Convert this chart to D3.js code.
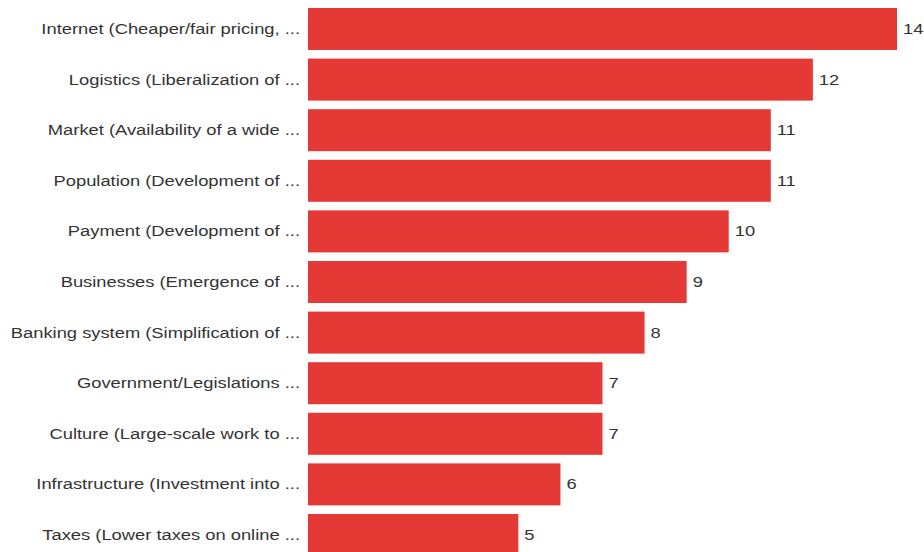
<!DOCTYPE html>
<html>
<head>
<meta charset="utf-8">
<script src="https://cdn.jsdelivr.net/npm/d3@7"></script>
<style>
  body { margin: 0; background: #fff; }
  svg { display: block; }
</style>
</head>
<body>
<svg id="chart" width="924" height="552"></svg>
<script>
const categories = [
  "Internet (Cheaper/fair pricing, ...",
  "Logistics (Liberalization of ...",
  "Market (Availability of a wide ...",
  "Population (Development of ...",
  "Payment (Development of ...",
  "Businesses (Emergence of ...",
  "Banking system (Simplification of ...",
  "Government/Legislations ...",
  "Culture (Large-scale work to ...",
  "Infrastructure (Investment into ...",
  "Taxes (Lower taxes on online ..."
]
const values = [14, 12, 11, 11, 10, 9, 8, 7, 7, 6, 5]

const barColour = "#e53935"
const textColour = "#333"
// the reference text is stretched sideways
const stretch = 1.31

const svg = d3.select("#chart")

const x = d3.scaleLinear()
    .domain([0, 14])
    .range([308, 897])

const y = d3.scaleBand()
    .domain(categories)
    .range([3.7, 560.3])
    .paddingInner(0.17)
    .paddingOuter(0.085)

const rows = categories.map((c, i) => ({ label: c, value: values[i] }))

svg.append("g")
  .selectAll("rect")
  .data(rows)
  .join("rect")
    .attr("x", x(0))
    .attr("y", d => y(d.label))
    .attr("width", d => x(d.value) - x(0))
    .attr("height", y.bandwidth())
    .attr("fill", barColour)

// category labels, right aligned against the bars
svg.append("g")
  .selectAll("text")
  .data(rows)
  .join("text")
    .attr("transform", d => `translate(${x(0) - 8},${y(d.label) + y.bandwidth() / 2}) scale(${stretch},1)`)
    .attr("dy", "0.35em")
    .attr("text-anchor", "end")
    .attr("font-family", "Liberation Sans, Arial, sans-serif")
    .attr("font-size", 14)
    .attr("fill", textColour)
    .text(d => d.label)

// value labels at bar ends
svg.append("g")
  .selectAll("text")
  .data(rows)
  .join("text")
    .attr("transform", d => `translate(${x(d.value) + 6},${y(d.label) + y.bandwidth() / 2}) scale(${stretch},1)`)
    .attr("dy", "0.35em")
    .attr("font-family", "Liberation Sans, Arial, sans-serif")
    .attr("font-size", 14)
    .attr("fill", textColour)
    .text(d => d.value)
</script>
</body>
</html>
